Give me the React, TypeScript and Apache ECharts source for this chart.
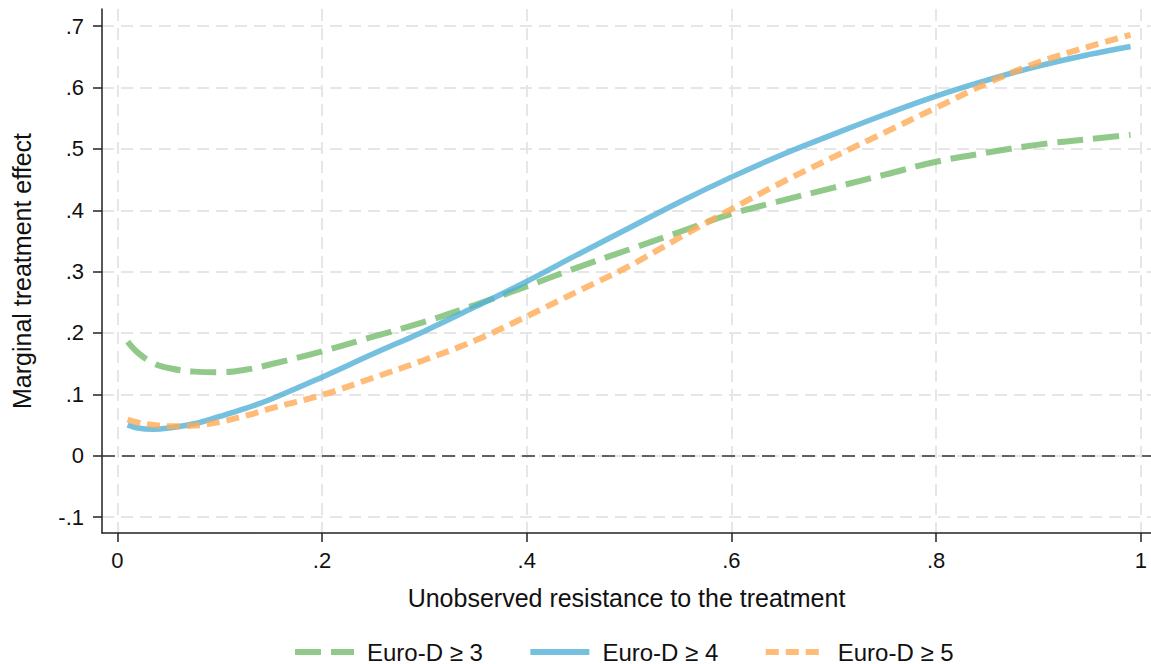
import React, { useEffect, useRef } from "react";
import * as echarts from "echarts";

const xValues = [0.01, 0.02, 0.035, 0.05, 0.075, 0.1, 0.125, 0.15, 0.2, 0.25, 0.3, 0.35, 0.4, 0.45, 0.5, 0.55, 0.6, 0.65, 0.7, 0.75, 0.8, 0.85, 0.9, 0.95, 0.99];
const euroD3 = [0.186, 0.168, 0.151, 0.143, 0.137, 0.136, 0.14, 0.149, 0.17, 0.194, 0.218, 0.246, 0.276, 0.307, 0.336, 0.365, 0.394, 0.416, 0.437, 0.458, 0.479, 0.494, 0.507, 0.516, 0.523];
const euroD4 = [0.05, 0.045, 0.043, 0.045, 0.052, 0.064, 0.077, 0.092, 0.128, 0.166, 0.203, 0.243, 0.284, 0.328, 0.371, 0.414, 0.454, 0.491, 0.524, 0.556, 0.586, 0.612, 0.635, 0.654, 0.667];
const euroD5 = [0.059, 0.054, 0.05, 0.048, 0.049, 0.055, 0.065, 0.077, 0.099, 0.127, 0.156, 0.188, 0.227, 0.268, 0.309, 0.356, 0.402, 0.446, 0.487, 0.527, 0.567, 0.607, 0.641, 0.667, 0.686];
const seriesNames = ["Euro-D \u2265 3", "Euro-D \u2265 4", "Euro-D \u2265 5"];
const xTicks = [0, 0.2, 0.4, 0.6, 0.8, 1];
const yTicks = [-0.1, 0, 0.1, 0.2, 0.3, 0.4, 0.5, 0.6, 0.7];

const fmt = (v: number) => {
  const r = Math.round(v * 10) / 10;
  if (r === 0) return "0";
  if (r === 1) return "1";
  return r.toFixed(1).replace("0.", ".");
};

const pairs = (ys: number[]) => xValues.map((x, i) => [x, ys[i]]);

const FONT = "Liberation Sans, Arial, sans-serif";
const GREEN = "rgba(118,188,109,0.8)";
const BLUE = "rgba(81,176,214,0.8)";
const ORANGE = "rgba(255,171,86,0.8)";

export default function App() {
  const ref = useRef<HTMLDivElement>(null);
  useEffect(() => {
    if (!ref.current) return;
    const chart = echarts.init(ref.current, null, { renderer: "svg" });
    const gridLine = { show: true, lineStyle: { color: "#e6e6e6", width: 2, type: [12, 7] as any } };
    chart.setOption({
      animation: false,
      backgroundColor: "#ffffff",
      textStyle: { fontFamily: FONT, color: "#111" },
      grid: { left: 102, top: 9, width: 1049, height: 524, containLabel: false },
      xAxis: {
        type: "value",
        min: -0.015,
        max: 1.01,
        name: "Unobserved resistance to the treatment",
        nameLocation: "middle",
        nameGap: 52,
        nameTextStyle: { fontSize: 25, color: "#111", fontFamily: FONT },
        axisLine: { show: true, onZero: false, lineStyle: { color: "#222", width: 1.5 } },
        axisTick: { show: true, length: 9, customValues: xTicks, lineStyle: { color: "#222", width: 1.5 } },
        axisLabel: { customValues: xTicks, formatter: fmt, fontSize: 22, color: "#111", margin: 16, fontFamily: FONT },
        splitLine: gridLine,
      },
      yAxis: {
        type: "value",
        min: -0.126,
        max: 0.728,
        name: "Marginal treatment effect",
        nameLocation: "middle",
        nameGap: 68,
        nameRotate: 90,
        nameTextStyle: { fontSize: 25, color: "#111", fontFamily: FONT },
        axisLine: { show: true, onZero: false, lineStyle: { color: "#222", width: 1.5 } },
        axisTick: { show: true, length: 9, customValues: yTicks, lineStyle: { color: "#222", width: 1.5 } },
        axisLabel: { customValues: yTicks, formatter: fmt, fontSize: 22, color: "#111", margin: 18, fontFamily: FONT },
        splitLine: gridLine,
      },
      legend: {
        left: 287,
        top: 634,
        itemWidth: 59,
        itemHeight: 14,
        itemGap: 44.5,
        itemStyle: { opacity: 0 },
        lineStyle: { width: 6, cap: "butt" },
        textStyle: { fontSize: 24, lineHeight: 26, color: "#111", fontFamily: FONT, padding: [0, 0, 0, 8] },
        data: seriesNames,
      },
      series: [
        {
          name: seriesNames[0],
          type: "line",
          data: pairs(euroD3),
          smooth: 0.4,
          showSymbol: false,
          symbol: "none",
          color: GREEN,
          lineStyle: { width: 6, type: [26, 10], cap: "butt", color: GREEN },
          z: 3,
          markLine: {
            silent: true,
            symbol: "none",
            label: { show: false },
            lineStyle: { color: "#333", width: 1.5, type: [13, 7] },
            data: [{ yAxis: 0 }],
            z: 1,
          },
        },
        {
          name: seriesNames[1],
          type: "line",
          data: pairs(euroD4),
          smooth: 0.4,
          showSymbol: false,
          symbol: "none",
          color: BLUE,
          lineStyle: { width: 5.5, type: "solid", color: BLUE },
          z: 4,
        },
        {
          name: seriesNames[2],
          type: "line",
          data: pairs(euroD5),
          smooth: 0.4,
          showSymbol: false,
          symbol: "none",
          color: ORANGE,
          lineStyle: { width: 6, type: [13, 7], cap: "butt", color: ORANGE },
          z: 5,
        },
      ],
    });
    return () => chart.dispose();
  }, []);
  return (
    <div
      ref={ref}
      style={{ position: "fixed", left: 0, top: 0, width: 1151, height: 664, background: "#fff" }}
    />
  );
}
